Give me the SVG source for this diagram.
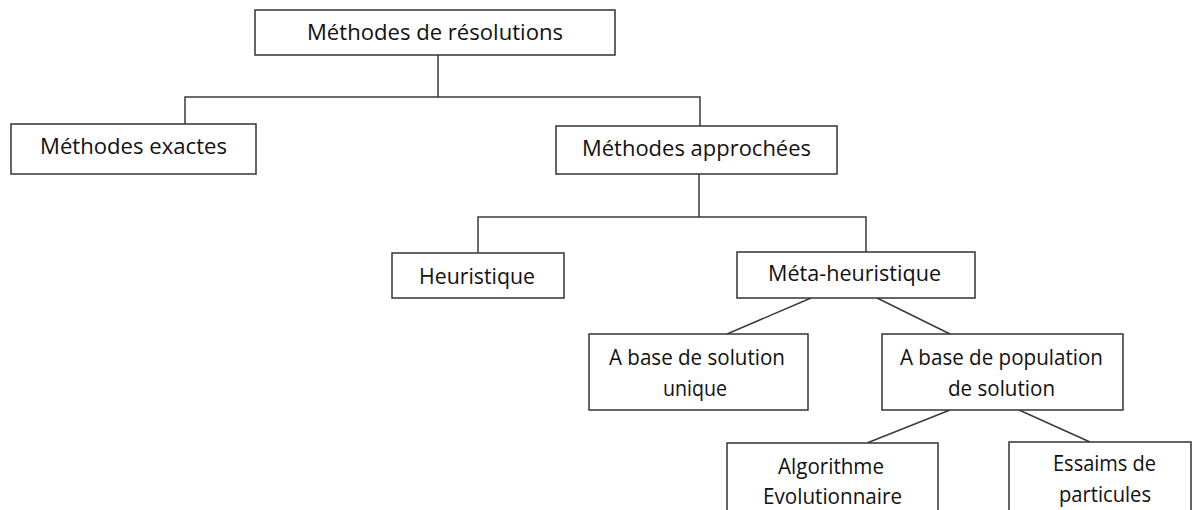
<svg xmlns="http://www.w3.org/2000/svg" width="1193" height="510" viewBox="0 0 1193 510">
<style>
.box{fill:#fff;stroke:#333;stroke-width:1.5}
.lbl{font-family:"Open Sans","Noto Sans","Liberation Sans",sans-serif;font-size:21px;fill:#111;text-anchor:middle}
.con{stroke:#3a3a3a;stroke-width:1.5;fill:none}
</style>
<rect width="1193" height="510" fill="#fff"/>
<g id="connectors">
<path class="con" d="M438,55V97M185,124V97H700V126"/>
<path class="con" d="M699,174V217M478,253V217H866V252"/>
<path class="con" d="M811,298L727,334M877,298L950,334"/>
<path class="con" d="M950,410L867,443M1019,410L1090,442"/>
</g>
<g id="n-resolution">
<rect class="box" x="255" y="10" width="360" height="45"/>
<text class="lbl" x="435" y="40" textLength="256" lengthAdjust="spacingAndGlyphs">Méthodes de résolutions</text>
</g>
<g id="n-exactes">
<rect class="box" x="11" y="124" width="245" height="50"/>
<text class="lbl" x="133.5" y="153.5" textLength="187" lengthAdjust="spacingAndGlyphs">Méthodes exactes</text>
</g>
<g id="n-approchees">
<rect class="box" x="556" y="126" width="281" height="48"/>
<text class="lbl" x="696.5" y="155.5" textLength="229" lengthAdjust="spacingAndGlyphs">Méthodes approchées</text>
</g>
<g id="n-heuristique">
<rect class="box" x="392" y="253" width="172" height="45"/>
<text class="lbl" x="477" y="283.5" textLength="116" lengthAdjust="spacingAndGlyphs">Heuristique</text>
</g>
<g id="n-meta">
<rect class="box" x="737" y="252" width="238" height="46"/>
<text class="lbl" x="854.5" y="281" textLength="173" lengthAdjust="spacingAndGlyphs">Méta-heuristique</text>
</g>
<g id="n-solution-unique">
<rect class="box" x="589" y="334" width="219" height="76"/>
<text class="lbl" x="697" y="365" textLength="176" lengthAdjust="spacingAndGlyphs">A base de solution</text>
<text class="lbl" x="695" y="396" textLength="64" lengthAdjust="spacingAndGlyphs">unique</text>
</g>
<g id="n-population">
<rect class="box" x="882" y="334" width="241" height="76"/>
<text class="lbl" x="1001.5" y="365" textLength="203" lengthAdjust="spacingAndGlyphs">A base de population</text>
<text class="lbl" x="1001.5" y="396" textLength="107" lengthAdjust="spacingAndGlyphs">de solution</text>
</g>
<g id="n-algorithme">
<rect class="box" x="727" y="443" width="211" height="80"/>
<text class="lbl" x="831" y="473.5" textLength="106" lengthAdjust="spacingAndGlyphs">Algorithme</text>
<text class="lbl" x="832.5" y="504" textLength="139" lengthAdjust="spacingAndGlyphs">Evolutionnaire</text>
</g>
<g id="n-essaims">
<rect class="box" x="1009" y="442" width="182" height="80"/>
<text class="lbl" x="1104.5" y="471" textLength="103" lengthAdjust="spacingAndGlyphs">Essaims de</text>
<text class="lbl" x="1105" y="502" textLength="92" lengthAdjust="spacingAndGlyphs">particules</text>
</g>
</svg>
